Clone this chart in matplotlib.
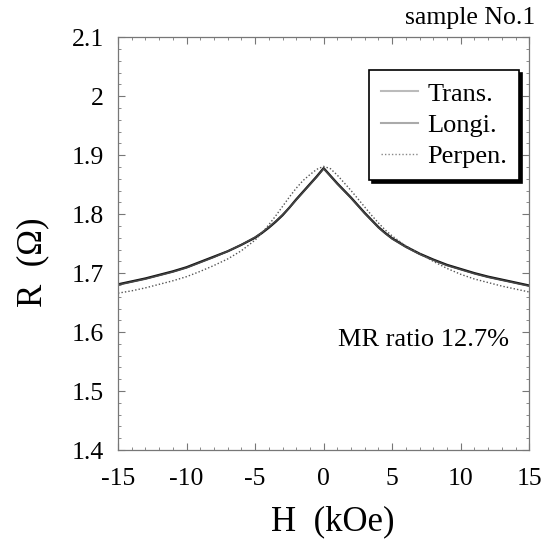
import numpy as np
import matplotlib
matplotlib.use('Agg')
import matplotlib.pyplot as plt
from matplotlib.ticker import MultipleLocator
from matplotlib.lines import Line2D

plt.rcParams['font.family'] = ['Liberation Serif', 'DejaVu Serif']
plt.rcParams['axes.unicode_minus'] = False

# field (kOe)
H = [-15, -14, -13, -12, -11, -10, -9, -8, -7, -6, -5, -4.5, -4, -3.5, -3, -2.5,
     -2, -1.5, -1, -0.5, 0, 0.5, 1, 1.5, 2, 2.5, 3, 3.5, 4, 4.5, 5, 6, 7, 8, 9,
     10, 11, 12, 13, 14, 15]

# resistance (ohm)
r_trans = [1.681, 1.686, 1.691, 1.697, 1.703, 1.710, 1.719, 1.728, 1.737, 1.748,
           1.760, 1.768, 1.777, 1.787, 1.798, 1.811, 1.825, 1.838, 1.851, 1.864,
           1.878, 1.865, 1.852, 1.840, 1.828, 1.815, 1.802, 1.790, 1.778, 1.768,
           1.759, 1.745, 1.733, 1.723, 1.714, 1.707, 1.700, 1.694, 1.689, 1.684,
           1.679]
r_longi = [1.680, 1.685, 1.690, 1.696, 1.702, 1.709, 1.718, 1.727, 1.737, 1.748,
           1.761, 1.769, 1.778, 1.788, 1.799, 1.811, 1.824, 1.837, 1.850, 1.863,
           1.877, 1.864, 1.851, 1.839, 1.827, 1.814, 1.801, 1.789, 1.777, 1.767,
           1.758, 1.744, 1.732, 1.722, 1.713, 1.706, 1.699, 1.693, 1.688, 1.683,
           1.678]
r_perp = [1.666, 1.670, 1.675, 1.681, 1.687, 1.694, 1.703, 1.713, 1.724, 1.738,
          1.756, 1.768, 1.782, 1.797, 1.813, 1.829, 1.844, 1.857, 1.867, 1.876,
          1.881, 1.877, 1.866, 1.853, 1.840, 1.826, 1.812, 1.798, 1.785, 1.773,
          1.763, 1.746, 1.733, 1.720, 1.708, 1.698, 1.690, 1.684, 1.678, 1.673,
          1.668]

labels = ['Trans.', 'Longi.', 'Perpen.']

fig = plt.figure(figsize=(5.49, 5.39), dpi=100)
ax = fig.add_axes([0.215, 0.165, 0.749, 0.766])

ax.plot(H, r_trans, color='#111111', lw=1.6)
ax.plot(H, r_longi, color='#444444', lw=1.2)
ax.plot(H, r_perp, color='#555555', lw=1.0, ls=(0, (1, 1.5)))

ax.set_xlim(-15, 15)
ax.set_ylim(1.4, 2.1)
ax.xaxis.set_major_locator(MultipleLocator(5))
ax.xaxis.set_minor_locator(MultipleLocator(1))
ax.yaxis.set_minor_locator(MultipleLocator(0.02))
ax.set_yticks([1.4, 1.5, 1.6, 1.7, 1.8, 1.9, 2.0, 2.1])
ax.set_yticklabels(['1.4', '1.5', '1.6', '1.7', '1.8', '1.9', '2', '2.1'])
ax.tick_params(which='both', direction='in', top=True, right=True,
               color='#777777', labelsize=18.5)
ax.tick_params(which='major', length=5, width=0.8)
ax.tick_params(which='minor', length=2.5, width=0.6)
ax.tick_params(axis='x', which='major', pad=13)
ax.tick_params(axis='y', which='major', pad=10)
for s in ax.spines.values():
    s.set_color('#777777')
    s.set_linewidth(0.9)

handles = [Line2D([], [], color='#bbbbbb', lw=1.5),
           Line2D([], [], color='#aaaaaa', lw=1.5),
           Line2D([], [], color='#888888', lw=1.0, ls=(0, (1, 1.5)))]
leg = ax.legend(handles, labels, loc='upper right', bbox_to_anchor=(0.975, 0.92),
                fontsize=19, frameon=True, fancybox=False,
                shadow={'color': 'black', 'alpha': 1.0},
                handlelength=1.4, handletextpad=0.35, labelspacing=0.3,
                borderpad=0.45, borderaxespad=0.0)
leg.get_frame().set_edgecolor('black')
leg.get_frame().set_linewidth(1.2)

ax.text(7.3, 1.586, 'MR ratio 12.7%', fontsize=19, ha='center', va='center')

fig.text(0.975, 0.967, 'sample No.1', fontsize=18.5, ha='right', va='center')
fig.text(0.607, 0.032, 'H  (kOe)', fontsize=25, ha='center', va='center')
fig.text(0.06, 0.513, 'R  (Ω)', fontsize=25, ha='center', va='center',
         rotation=90)

fig.savefig('out.png', dpi=100)
